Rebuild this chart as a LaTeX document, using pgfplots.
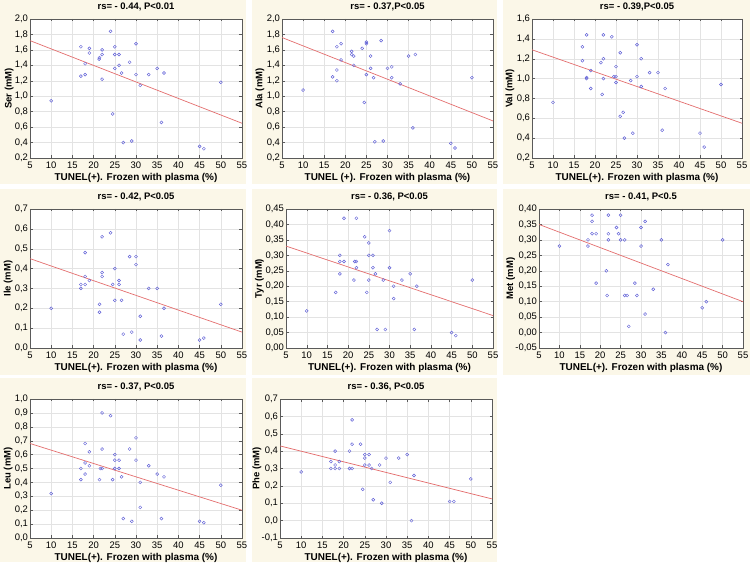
\documentclass[border=0pt]{standalone}
\usepackage{fontspec}
\setmainfont{Liberation Sans}
\usepackage{pgfplots}
\pgfplotsset{compat=1.18}
\definecolor{panelbg}{RGB}{251,247,232}
\definecolor{ptblue}{RGB}{95,95,215}
\definecolor{fitred}{RGB}{228,110,110}
\definecolor{framec}{RGB}{90,90,90}
\pgfplotsset{
  panel/.style={
    scale only axis, height=139bp, anchor=south west,
    xmin=5, xmax=55, xtick={5,10,15,20,25,30,35,40,45,50,55},
    axis background/.style={fill=white},
    grid=major, major grid style={gray!22, line width=0.4pt},
    axis line style={framec, line width=0.5pt},
    tick style={framec, line width=0.4pt},
    tick align=inside, major tick length=2.5bp,
    ticklabel style={font=\fontsize{9.5}{10}\selectfont},
    yticklabel style={xshift=1.5bp},
    /pgf/number format/assume math mode=true,
    /pgf/number format/use comma,
    title style={font=\bfseries\fontsize{9.5}{11}\selectfont, yshift=-1bp},
    xlabel={TUNEL(+). Frozen with plasma (\%)},
    xlabel style={font=\bfseries\fontsize{10}{12}\selectfont,
      at={(axis description cs:0.5,0)}, anchor=center, yshift=-20bp},
    ylabel style={font=\bfseries\fontsize{9.5}{11}\selectfont},
  },
  ylab/.style={ylabel style={at={(axis description cs:0,0.5)}, anchor=center, yshift=#1}},
  yp1/.style={yticklabel style={/pgf/number format/.cd, fixed, fixed zerofill, precision=1, use comma}},
  yp2/.style={yticklabel style={/pgf/number format/.cd, fixed, fixed zerofill, precision=2, use comma}},
  pts/.style={only marks, mark=o, mark size=1.5bp, color=ptblue, mark options={line width=0.45pt}},
  fit/.style={no marks, color=fitred, line width=0.7pt},
}
\begin{document}
\begin{tikzpicture}
\path[use as bounding box] (0,0) rectangle (750bp,565bp);
% panel backgrounds
\fill[panelbg] (0bp,381bp) rectangle (246bp,565bp);
\fill[panelbg] (252bp,381bp) rectangle (497bp,565bp);
\fill[panelbg] (503bp,381bp) rectangle (750bp,565bp);
\fill[panelbg] (0bp,190bp) rectangle (246bp,376bp);
\fill[panelbg] (252bp,190bp) rectangle (497bp,376bp);
\fill[panelbg] (503bp,190bp) rectangle (750bp,376bp);
\fill[panelbg] (0bp,3bp) rectangle (246bp,187bp);
\fill[panelbg] (252bp,3bp) rectangle (497bp,187bp);

% ---------- Ser ----------
\begin{axis}[panel, yp1, ylab=20.7bp, at={(30bp,407bp)}, width=212bp,
  ymin=0.2, ymax=2.0, ytick={0.2,0.4,0.6,0.8,1.0,1.2,1.4,1.6,1.8,2.0},
  title={rs= - 0.44, P<0.01}, ylabel={Ser (mM)}]
\addplot[pts] coordinates {
(10,0.94) (17,1.64) (17,1.26) (18,1.42) (18,1.28) (19,1.62) (19,1.56)
(21.3,1.48) (21.4,1.50) (22,1.60) (22,1.54) (22,1.22) (24,1.84) (24.5,0.77)
(25,1.64) (25,1.54) (25,1.36) (26,1.54) (26,1.40) (26.6,1.30) (27,0.40)
(28.5,1.44) (29,0.42) (30,1.68) (30,1.28) (31,1.14) (33,1.28) (35,1.36)
(36,0.66) (36.6,1.30) (45,0.35) (46,0.32) (50,1.18)};
\addplot[fit] coordinates {(5,1.72) (55,0.65)};
\end{axis}

% ---------- Ala ----------
\begin{axis}[panel, yp1, ylab=22bp, at={(282bp,407bp)}, width=211bp,
  ymin=0.2, ymax=2.0, ytick={0.2,0.4,0.6,0.8,1.0,1.2,1.4,1.6,1.8,2.0},
  title={rs= - 0.37,P<0.05}, ylabel={Ala (mM)},
  xlabel={TUNEL (+). Frozen with plasma (\%)}]
\addplot[pts] coordinates {
(10,1.08) (17,1.84) (17,1.25) (18,1.64) (18,1.34) (18,1.20) (19,1.68) (19,1.47)
(21.5,1.58) (21.5,1.54) (22,1.52) (22,1.40) (24,1.62) (24.5,0.92)
(25,1.70) (25,1.68) (25,1.28) (26,1.52) (26,1.36) (26.7,1.24) (27,0.41)
(28.5,1.72) (29,0.42) (30,1.36) (31,1.38) (31,1.24) (33,1.16) (35,1.52)
(36,0.59) (36.6,1.54) (45,0.39) (46,0.33) (50,1.24)};
\addplot[fit] coordinates {(5,1.76) (55,0.68)};
\end{axis}

% ---------- Val ----------
\begin{axis}[panel, yp1, ylab=22bp, at={(532bp,407bp)}, width=210bp,
  ymin=0.2, ymax=1.6, ytick={0.2,0.4,0.6,0.8,1.0,1.2,1.4,1.6},
  title={rs= - 0.39,P<0.05}, ylabel={Val (mM)}]
\addplot[pts] coordinates {
(10,0.76) (17,1.32) (17,1.18) (18,1.44) (18,1.01) (18,1.00) (19,1.08) (19,0.90)
(21.4,1.16) (21.7,0.84) (22,1.44) (22,1.20) (22,1.00) (24,1.42) (24.5,1.02)
(25,1.12) (25,1.02) (25,0.96) (26,1.26) (26,0.62) (26.7,0.66) (27,0.40)
(28.5,0.98) (29,0.45) (30,1.34) (30,1.02) (31,1.20) (31,0.92) (33,1.06)
(35,1.06) (36,0.48) (36.7,0.90) (45,0.45) (46,0.31) (50,0.94)};
\addplot[fit] coordinates {(5,1.29) (55,0.55)};
\end{axis}

% ---------- Ile ----------
\begin{axis}[panel, yp1, ylab=21.7bp, at={(30bp,217bp)}, width=212bp,
  ymin=0, ymax=0.7, ytick={0,0.1,0.2,0.3,0.4,0.5,0.6,0.7},
  title={rs= - 0.42, P<0.05}, ylabel={Ile (mM)}]
\addplot[pts] coordinates {
(10,0.20) (17,0.32) (17,0.30) (18,0.48) (18,0.36) (18,0.32) (19,0.34)
(21.4,0.22) (21.4,0.18) (22,0.56) (22,0.38) (22,0.36) (24,0.58) (24.5,0.32)
(25,0.40) (25,0.24) (26,0.34) (26,0.32) (26.6,0.24) (27,0.07)
(28.5,0.46) (29,0.08) (30,0.46) (30,0.42) (31,0.16) (31,0.04) (33,0.30)
(35,0.30) (36,0.06) (36.6,0.20) (45,0.04) (46,0.05) (50,0.22)};
\addplot[fit] coordinates {(5,0.45) (55,0.08)};
\end{axis}

% ---------- Tyr ----------
\begin{axis}[panel, yp2, ylab=26.7bp, at={(286bp,217bp)}, width=207bp,
  ymin=0, ymax=0.45, ytick={0,0.05,0.10,0.15,0.20,0.25,0.30,0.35,0.40,0.45},
  title={rs= - 0.36, P<0.05}, ylabel={Tyr (mM)}]
\addplot[pts] coordinates {
(10,0.12) (17,0.18) (18,0.30) (18,0.28) (18,0.24) (19,0.42) (19,0.28)
(21.4,0.22) (21.6,0.28) (22,0.28) (22,0.42) (22,0.26) (24,0.36) (24.5,0.18)
(25,0.34) (25,0.30) (25,0.22) (26,0.30) (26,0.26) (26.6,0.24) (27,0.06)
(28.5,0.22) (29,0.06) (30,0.38) (30,0.26) (31,0.20) (31,0.16) (33,0.22)
(35,0.24) (36,0.06) (36.6,0.20) (45,0.05) (46,0.04) (50,0.22)};
\addplot[fit] coordinates {(5,0.33) (55,0.105)};
\end{axis}

% ---------- Met ----------
\begin{axis}[panel, yp2, ylab=28.3bp, at={(539bp,217bp)}, width=204bp,
  ymin=-0.05, ymax=0.40, ytick={-0.05,0,0.05,0.10,0.15,0.20,0.25,0.30,0.35,0.40},
  title={rs= - 0.41, P<0.5}, ylabel={Met (mM)}]
\addplot[pts] coordinates {
(10,0.28) (17,0.30) (17,0.28) (18,0.38) (18,0.36) (18,0.32) (19,0.32) (19,0.16)
(21.5,0.20) (21.7,0.12) (22,0.38) (22,0.32) (22,0.30) (24,0.34) (24.5,0.32)
(25,0.38) (25,0.30) (26,0.30) (26,0.12) (26.6,0.12) (27,0.02)
(28.5,0.16) (29,0.12) (30,0.34) (30,0.28) (31,0.36) (31,0.06) (33,0.14)
(35,0.30) (36,0.00) (36.6,0.22) (45,0.08) (46,0.10) (50,0.30)};
\addplot[fit] coordinates {(5,0.35) (55,0.10)};
\end{axis}

% ---------- Leu ----------
\begin{axis}[panel, yp1, ylab=21.7bp, at={(30bp,27bp)}, width=212bp,
  ymin=0, ymax=1.0, ytick={0,0.1,0.2,0.3,0.4,0.5,0.6,0.7,0.8,0.9,1.0},
  title={rs= - 0.37, P<0.05}, ylabel={Leu (mM)}]
\addplot[pts] coordinates {
(10,0.32) (17,0.50) (17,0.42) (18,0.68) (18,0.54) (18,0.46) (19,0.62) (19,0.52)
(21.4,0.42) (21.6,0.50) (22,0.50) (22,0.90) (22,0.64) (24,0.88) (24.5,0.42)
(25,0.60) (25,0.56) (25,0.50) (26,0.56) (26,0.50) (26.6,0.44) (27,0.14)
(28.5,0.64) (29,0.12) (30,0.72) (30,0.56) (31,0.40) (31,0.22) (33,0.52)
(35,0.46) (36,0.14) (36.6,0.44) (45,0.12) (46,0.11) (50,0.38)};
\addplot[fit] coordinates {(5,0.68) (55,0.20)};
\end{axis}

% ---------- Phe ----------
\begin{axis}[panel, yp1, ylab=23bp, at={(280bp,27bp)}, width=212bp,
  ymin=-0.1, ymax=0.7, ytick={-0.1,0,0.1,0.2,0.3,0.4,0.5,0.6,0.7},
  title={rs= - 0.36, P<0.05}, ylabel={Phe (mM)}]
\addplot[pts] coordinates {
(10,0.28) (17,0.34) (17,0.30) (18,0.40) (18,0.32) (18,0.30) (19,0.34) (19,0.30)
(21.4,0.40) (21.4,0.30) (22,0.30) (22,0.58) (22,0.44) (24,0.44) (24.5,0.18)
(25,0.38) (25,0.36) (25,0.32) (26,0.38) (26,0.32) (26.6,0.30) (27,0.12)
(28.5,0.32) (29,0.10) (30,0.36) (31,0.22) (33,0.36)
(35,0.38) (36,0.00) (36.6,0.26) (45,0.11) (46,0.11) (50,0.24)};
\addplot[fit] coordinates {(5,0.43) (55,0.125)};
\end{axis}
\end{tikzpicture}
\end{document}
